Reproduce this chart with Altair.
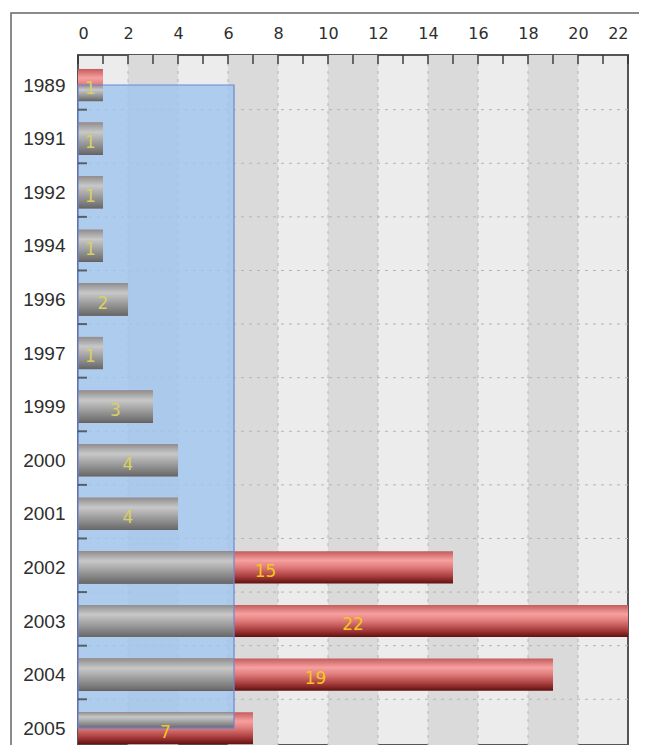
import altair as alt
import pandas as pd

# ---- data ----
years = ["1989", "1991", "1992", "1994", "1996", "1997", "1999",
         "2000", "2001", "2002", "2003", "2004", "2005"]
counts = [1, 1, 1, 1, 2, 1, 3, 4, 4, 15, 22, 19, 7]
highlight_x = [0, 6.24]          # shaded (blue) range on the value axis
highlight_rows = [0, 12]         # from first year to last year (row index)
x_tick_values = list(range(0, 23))
x_label_values = list(range(0, 23, 2))
dark_band_starts = [2, 6, 10, 14, 18]
band_width = 2

# ---- layout ----
W, H = 550, 690
bar_half = 0.3
y_domain = [-0.56, 12.313]

idx = list(range(len(years)))
bars = pd.DataFrame({"i": idx, "year": years, "v": counts})
bars["y0"] = bars["i"] - bar_half
bars["y1"] = bars["i"] + bar_half
bars["mid"] = bars["v"] / 2
bars["ty"] = bars["i"] + 0.08

gray = bars.copy()
gray["gx2"] = gray["v"].clip(upper=highlight_x[1])
gray["gy0"] = gray["y0"].clip(lower=highlight_rows[0])
gray["gy1"] = gray["y1"].clip(upper=highlight_rows[1])

bands = pd.DataFrame({"b0": dark_band_starts})
bands["b1"] = bands["b0"] + band_width
bands["t"] = y_domain[0]
bands["b"] = y_domain[1]

vgrid = pd.DataFrame({"gx": x_label_values[1:-1]})
hgrid = pd.DataFrame({"gy": [i + 0.46 for i in idx[:-1]]})
xticks = pd.DataFrame({"tx": x_tick_values})
hl = pd.DataFrame({"x0": [highlight_x[0]], "x1": [highlight_x[1]],
                   "r0": [highlight_rows[0]], "r1": [highlight_rows[1]]})
frame = pd.DataFrame({"k": [0]})

xs = alt.Scale(domain=[0, 22], nice=False, zero=True)
ys = alt.Scale(domain=y_domain, reverse=True, nice=False, zero=False)

label_expr = "[" + ",".join("'%s'" % y for y in years) + "][datum.value]"
x_axis = alt.Axis(orient="top", values=x_label_values, title=None, ticks=False,
                  tickSize=0, domain=False, grid=False, labelPadding=14,
                  labelFont="DejaVu Sans", labelFontSize=16, labelColor="#2e2e2e")
y_axis = alt.Axis(orient="left", values=idx, labelExpr=label_expr, title=None,
                  ticks=False, tickSize=0, domain=False, grid=False, labelPadding=13,
                  labelFont="Liberation Sans", labelFontSize=19, labelColor="#2e2e2e")

def X(f, **kw):
    return alt.X(f, type="quantitative", scale=xs, axis=x_axis, **kw)

def Y(f, **kw):
    return alt.Y(f, type="quantitative", scale=ys, axis=y_axis, **kw)

band_layer = alt.Chart(bands).mark_rect(color="#dadada").encode(
    x=X("b0"), x2="b1", y=Y("t"), y2="b")

vgrid_layer = alt.Chart(vgrid).mark_rule(color="#b4b4b4", strokeDash=[3, 5], strokeWidth=1).encode(
    x=X("gx"))
hgrid_layer = alt.Chart(hgrid).mark_rule(color="#b4b4b4", strokeDash=[3, 5], strokeWidth=1).encode(
    y=Y("gy"))

blue_fill = alt.Chart(hl).mark_rect(color="#9fc6ef", opacity=0.8).encode(
    x=X("x0"), x2="x1", y=Y("r0"), y2="r1")

red_grad = alt.Gradient(
    gradient="linear", x1=0, x2=0, y1=0, y2=1,
    stops=[alt.GradientStop(offset=0, color="#c45c5c"),
           alt.GradientStop(offset=0.28, color="#f7a0a0"),
           alt.GradientStop(offset=0.5, color="#e07a7a"),
           alt.GradientStop(offset=0.78, color="#a93c3c"),
           alt.GradientStop(offset=1, color="#5e1010")])
gray_grad = alt.Gradient(
    gradient="linear", x1=0, x2=0, y1=0, y2=1,
    stops=[alt.GradientStop(offset=0, color="#8e8e8e"),
           alt.GradientStop(offset=0.3, color="#c8c8c8"),
           alt.GradientStop(offset=0.55, color="#a6a6a6"),
           alt.GradientStop(offset=0.85, color="#7c7c7c"),
           alt.GradientStop(offset=1, color="#666666")])

red_layer = alt.Chart(bars).mark_bar(color=red_grad).encode(
    x=X("v"), x2=alt.X2(datum=0), y=Y("y0"), y2="y1")

gray_layer = alt.Chart(gray).mark_bar(color=gray_grad).encode(
    x=X("gx2"), x2=alt.X2(datum=0), y=Y("gy0"), y2="gy1")

blue_edge = alt.Chart(hl).mark_rect(filled=False, stroke="#6f86d6", strokeWidth=1.2).encode(
    x=X("x0"), x2="x1", y=Y("r0"), y2="r1")

top_ticks = alt.Chart(xticks).mark_tick(color="#333333", thickness=2, size=9).encode(
    x=X("tx"), y=alt.value(4.5))
left_ticks = alt.Chart(hgrid).mark_tick(color="#333333", thickness=2, size=9).encode(
    y=Y("gy"), x=alt.value(4.5))

text_layer = alt.Chart(bars).mark_text(font="DejaVu Sans", fontSize=17).encode(
    x=X("mid"), y=Y("ty"), text="v:Q",
    color=alt.condition("datum.v <= 4", alt.value("#d9d15e"), alt.value("#f3c81a")))

frame_layer = alt.Chart(frame).mark_rect(filled=False, stroke="#666666", strokeWidth=1.5).encode(
    x=alt.value(-67), x2=alt.value(700), y=alt.value(-42), y2=alt.value(800))

chart = alt.layer(
    band_layer, vgrid_layer, hgrid_layer, blue_fill, red_layer, gray_layer,
    blue_edge, top_ticks, left_ticks, text_layer, frame_layer
).properties(
    width=W, height=H,
    background="white",
    autosize=alt.AutoSizeParams(type="none"),
    padding={"left": 70, "top": 47, "right": 11, "bottom": 0},
).configure_view(
    stroke="#555555", strokeWidth=2, fill="#ececec"
)

chart.save("out.html", embed_options={"renderer": "svg", "actions": False})
